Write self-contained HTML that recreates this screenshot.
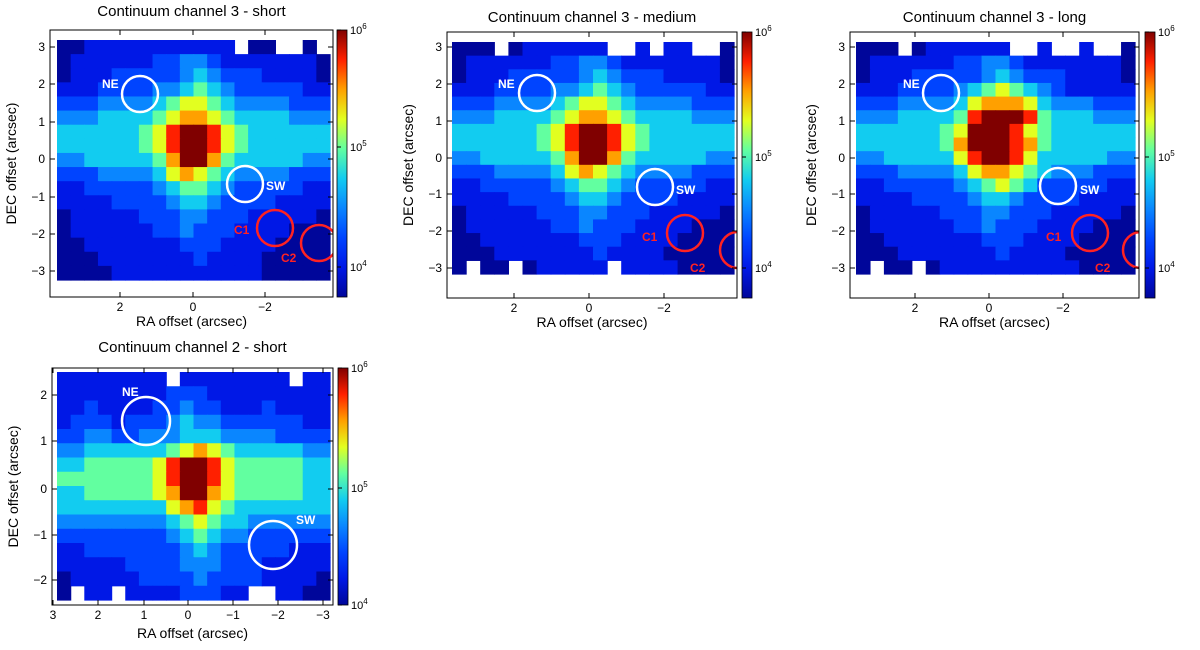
<!DOCTYPE html>
<html><head><meta charset="utf-8"><style>
body{margin:0;background:#fff}
svg{display:block;font-family:"Liberation Sans",sans-serif}
</style></head><body>
<svg id="fig" width="1200" height="650" viewBox="0 0 1200 650"></svg>
<script>
// Heatmap data: intensity levels (0 = ~8e3, 9 = >1e6), '.' = no data
const gridShort3 = [
"0011111111111.00..0.","01111112233211111110","01112222234322211110","11122223345432222211",
"22233334566543333222","33344445677654444333","44444456899865444444","44444456899865444444",
"33444445799754444433","22233334676543333222","11222223455432222211","11112222344322221111",
"01111122233222111110","01111112232221111000","00111111122211110000","00011111112111100000",
"00001111111111100000"];
const gridMedium3 = [
"000.0111111..1.11..0","01111112233211111110","01112222234322211110","11122223345432222211",
"22233334566543333222","33344445677654444333","44444456899865444444","44444456899865444444",
"33444445799754444433","22233334676543333222","11222223455432222211","11112222344322221111",
"01111122233222111110","01111112232221111000","00111111122211110000","00011111112111100000",
"0.00.011111.11110000"];
const gridLong3 = [
"000.0111111..1..1..0","01111112233211111110","01112222234322211110","11122223456543211111",
"22233334677764333222","33344445899985444333","44444456999865444444","44444457999875444444",
"33444446899864444433","22233334677654333222","11222223456542222211","11112222344322221111",
"01111122233222111110","01111112232221111000","00111111122211110000","00011111112111100000",
"0.00.011111111110000"];
const gridShort2 = [
"11111111.11111111.11","11111111222111111111","11211112232211121111","12221222343322222211",
"22332233344433332222","33444444567654444433","44555556899865555544","55555556899865555544",
"44555556799765555544","44444444678654444444","33333333456544333333","22222222345433222222",
"11222222234322222111","11111222233322211111","01111122223222211110","0.11.111122211..1100"];
const levelColors = ["#00069a","#0018e6","#0044ff","#0a86ff","#12ccf0","#62ffa0","#e2ff20","#ffa000","#ff2000","#800000"];
const colorbarTicks = ["10","10","10"];
const colorbarExp = ["6","5","4"];

const panels = [
 {title:"Continuum channel 3 - short",grid:gridShort3,fx:50,fy:30,fw:283,fh:267,dx:57,dy:40,dw:273,dh:240,cb:337,cbTick:[30,147,267],
  xt:[[120,"2"],[193,"0"],[265,"−2"]],yt:[[47,"3"],[84,"2"],[122,"1"],[159,"0"],[197,"−1"],[234,"−2"],[271,"−3"]],
  circ:[[140,94,18,"#fff","NE",102,88],[245,184,18,"#fff","SW",266,190],[275,228,18,"#f22","C1",234,234],[319,243,18,"#f22","C2",281,262]],ty:16,xl:326},
 {title:"Continuum channel 3 - medium",grid:gridMedium3,fx:447,fy:32,fw:290,fh:266,dx:452,dy:42,dw:282,dh:232,cb:742,cbTick:[32,157,268],
  xt:[[514,"2"],[589,"0"],[664,"−2"]],yt:[[47,"3"],[84,"2"],[121,"1"],[158,"0"],[194,"−1"],[231,"−2"],[268,"−3"]],
  circ:[[537,93,18,"#fff","NE",498,88],[655,187,18,"#fff","SW",676,194],[685,233,18,"#f22","C1",642,241],[738,250,18,"#f22","C2",690,272]],ty:22,xl:327},
 {title:"Continuum channel 3 - long",grid:gridLong3,fx:850,fy:32,fw:289,fh:266,dx:856,dy:42,dw:279,dh:232,cb:1145,cbTick:[32,157,268],
  xt:[[915,"2"],[989,"0"],[1063,"−2"]],yt:[[47,"3"],[84,"2"],[121,"1"],[158,"0"],[194,"−1"],[231,"−2"],[268,"−3"]],
  circ:[[941,93,18,"#fff","NE",903,88],[1058,186,18,"#fff","SW",1080,194],[1090,233,18,"#f22","C1",1046,241],[1141,250,18,"#f22","C2",1095,272]],ty:22,xl:327},
 {title:"Continuum channel 2 - short",grid:gridShort2,fx:52,fy:368,fw:281,fh:237,dx:57,dy:372,dw:273,dh:228,cb:338,cbTick:[368,488,605],
  xt:[[53,"3"],[98,"2"],[144,"1"],[188,"0"],[233,"−1"],[278,"−2"],[323,"−3"]],yt:[[395,"2"],[441,"1"],[489,"0"],[535,"−1"],[580,"−2"]],
  circ:[[146,421,24,"#fff","NE",122,396],[273,545,24,"#fff","SW",296,524]],ty:352,xl:638}
];
const svg=document.getElementById('fig');const NS="http://www.w3.org/2000/svg";
function mk(t,a,p){const e=document.createElementNS(NS,t);for(const k in a)e.setAttribute(k,a[k]);(p||svg).appendChild(e);return e;}
panels.forEach((P,pi)=>{
 const g=mk('g',{});
 
 
 const rows=P.grid.length,cols=P.grid[0].length;
 const cw=P.dw/cols,ch=P.dh/rows;
 const clipId='c'+pi;const cp=mk('clipPath',{id:clipId},g);mk('rect',{x:P.fx,y:P.fy,width:P.fw,height:P.fh},cp);
 const hm=mk('g',{'clip-path':'url(#'+clipId+')'},g);
 P.grid.forEach((row,r)=>{for(let c=0;c<cols;c++){const ch_=row[c];if(ch_==='.')continue;
  const cell=mk('rect',{x:(P.dx+c*cw).toFixed(2),y:(P.dy+r*ch).toFixed(2),width:(cw+0.6).toFixed(2),height:(ch+0.6).toFixed(2),fill:levelColors[+ch_]},hm);
  
  }});
 P.circ.forEach(cc=>{
  const ci=mk('circle',{cx:cc[0],cy:cc[1],r:cc[2],fill:'none',stroke:cc[3],'stroke-width':2.5},hm);
  
  
  const tl=mk('text',{x:cc[5],y:cc[6],fill:cc[3],'font-size':12,'font-weight':'bold'},g);tl.textContent=cc[4];
  
  });
 const fr=mk('rect',{x:P.fx,y:P.fy,width:P.fw,height:P.fh,fill:'none',stroke:'#000','stroke-width':1},g);
 
 
 P.xt.forEach(t=>{mk('line',{x1:t[0],x2:t[0],y1:P.fy+P.fh,y2:P.fy+P.fh-5,stroke:'#000'},g);mk('line',{x1:t[0],x2:t[0],y1:P.fy,y2:P.fy+5,stroke:'#000'},g);
  const tx=mk('text',{x:t[0],y:P.fy+P.fh+14,'font-size':12,'text-anchor':'middle'},g);tx.textContent=t[1];
  
  });
 P.yt.forEach(t=>{mk('line',{x1:P.fx,x2:P.fx+5,y1:t[0],y2:t[0],stroke:'#000'},g);mk('line',{x1:P.fx+P.fw,x2:P.fx+P.fw-5,y1:t[0],y2:t[0],stroke:'#000'},g);
  const tx=mk('text',{x:P.fx-5,y:t[0]+4,'font-size':12,'text-anchor':'end'},g);tx.textContent=t[1];
  
  });
 const ti=mk('text',{x:P.fx+P.fw/2,y:P.ty,'font-size':15,'text-anchor':'middle'},g);ti.textContent=P.title;
 
 
 const xl=mk('text',{x:P.fx+P.fw/2,y:P.xl,'font-size':14,'text-anchor':'middle'},g);xl.textContent="RA offset (arcsec)";
 
 
 const yx=P.fx-34,yy=P.fy+P.fh/2;
 const yl=mk('text',{x:yx,y:yy,'font-size':14,'text-anchor':'middle',transform:`rotate(-90 ${yx} ${yy})`},g);yl.textContent="DEC offset (arcsec)";
 
 
 const gid='cbg'+pi;const lg=mk('linearGradient',{id:gid,x1:0,y1:1,x2:0,y2:0},g);
 levelColors.forEach((c,i)=>mk('stop',{offset:(i/(levelColors.length-1)),'stop-color':c},lg));
 const cb=mk('rect',{x:P.cb,y:P.fy,width:10,height:P.fh,fill:`url(#${gid})`,stroke:'#000','stroke-width':0.8},g);
 
 
 P.cbTick.forEach((y,i)=>{mk('line',{x1:P.cb,x2:P.cb+4,y1:y,y2:y,stroke:'#000'},g);
  const tx=mk('text',{x:P.cb+13,y:y+4,'font-size':11},g);tx.textContent=colorbarTicks[i];
  const sp=mk('tspan',{dy:-5,'font-size':8},tx);sp.textContent=colorbarExp[i];
  
  });
});
</script>
</body></html>
